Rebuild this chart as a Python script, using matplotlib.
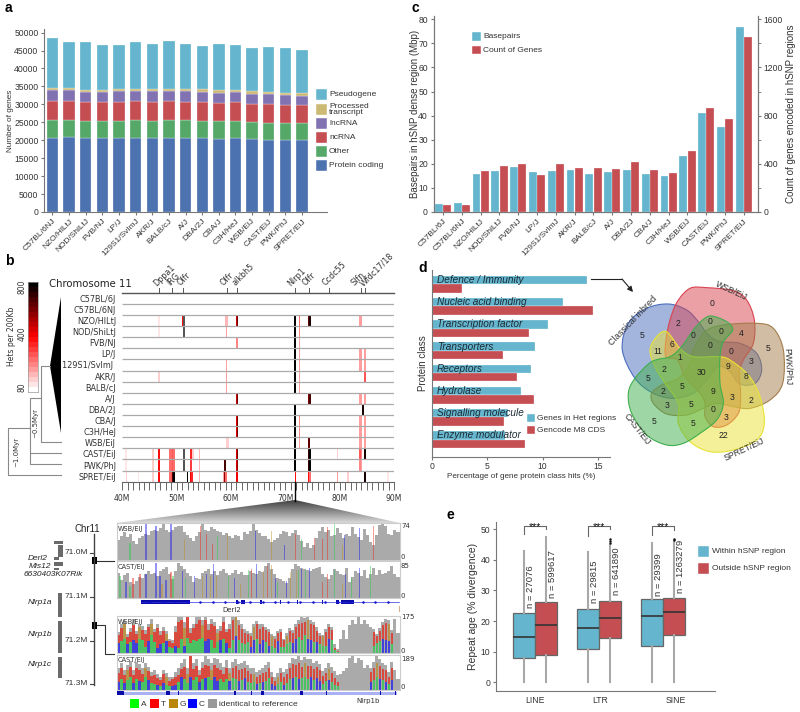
import matplotlib
matplotlib.use('Agg')
import matplotlib.pyplot as plt
import numpy as np
from matplotlib.colors import LinearSegmentedColormap, Normalize
from matplotlib.patches import PathPatch, Polygon, Rectangle
from matplotlib.path import Path

plt.rcParams['font.family'] = ['Liberation Sans', 'DejaVu Sans']

W, H = 800, 712

# panel a
strains_a = ['C57BL/6NJ', 'NZO/HlLtJ', 'NOD/ShiLtJ', 'FVB/NJ', 'LP/J', '129S1/SvImJ', 'AKR/J', 'BALB/cJ',
             'A/J', 'DBA/2J', 'CBA/J', 'C3H/HeJ', 'WSB/EiJ', 'CAST/EiJ', 'PWK/PhJ', 'SPRET/EiJ']
protein_top = [20700, 20800, 20500, 20500, 20550, 20600, 20600, 20650, 20600, 20550, 20450, 20500, 20250, 20150, 20100, 20100]
other_top = [25700, 25750, 25300, 25400, 25400, 25500, 25450, 25500, 25500, 25400, 25300, 25350, 25050, 24850, 24750, 24700]
ncrna_top = [31000, 31000, 30600, 30700, 30700, 30800, 30750, 30800, 30750, 30650, 30500, 30550, 30200, 30000, 29800, 29700]
lncrna_top = [33900, 33950, 33400, 33500, 33600, 33600, 33600, 33650, 33600, 33500, 33300, 33400, 33000, 32800, 32650, 32400]
processed_top = [34600, 34600, 34100, 34100, 34300, 34300, 34300, 34300, 34300, 34200, 34050, 34100, 33700, 33450, 33300, 33150]
pseudo_top = [48400, 47300, 47400, 46500, 46600, 47500, 46900, 47700, 46900, 46400, 46950, 46500, 45600, 46000, 45600, 45100]

# panel c
strains_c = ['C57BL/6J', 'C57BL/6NJ', 'NZO/HlLtJ', 'NOD/ShiLtJ', 'FVB/NJ', 'LP/J', '129S1/SvImJ', 'AKR/J', 'BALB/cJ',
             'A/J', 'DBA/2J', 'CBA/J', 'C3H/HeJ', 'WSB/EiJ', 'CAST/EiJ', 'PWK/PhJ', 'SPRET/EiJ']
basepairs = [3.3, 3.8, 15.8, 17, 18.5, 16.5, 17, 17.3, 15.6, 16.8, 17.6, 15.6, 14.8, 23.3, 41.2, 35.2, 77]
gene_count = [58, 58, 344, 378, 400, 304, 398, 366, 366, 360, 414, 348, 326, 504, 864, 776, 1454]

# panel d
protein_class = ['Defence / Immunity', 'Nucleic acid binding', 'Transcription factor', 'Transporters',
                 'Receptors', 'Hydrolase', 'Signalling molecule', 'Enzyme modulator']
het_region_pct = [14, 11.8, 10.5, 9.3, 8.9, 8, 6.9, 6.6]
gencode_pct = [2.7, 14.5, 8.8, 6.4, 7.7, 9.2, 6.5, 8.4]

# panel e
repeat_names = ['LINE', 'LTR', 'SINE']
within_box = [(0, 7.8, 14.8, 22.8, 43), (0, 10.8, 17.7, 24, 42.7), (0, 11.8, 21.8, 27.2, 45.5)]
outside_box = [(0, 9, 18.8, 26.3, 47.5), (0, 14.5, 21, 26.7, 45), (0, 15.3, 23, 27.5, 46)]
within_n = ['n = 27076', 'n = 29815', 'n = 29399']
outside_n = ['n = 599617', 'n = 641890', 'n = 1263279']
outside_fliers = [[], [45.6, 46.2, 46.8], [46.5, 47]]

# panel b, hets per 200Kb as (Mb position, hets), 0 marks the grey no-call cells
strains_b = ['C57BL/6J', 'C57BL/6NJ', 'NZO/HILtJ', 'NOD/ShiLtJ', 'FVB/NJ', 'LP/J', '129S1/SvImJ ', 'AKR/J', 'BALB/cJ',
             'A/J', 'DBA/2J', 'CBA/J', 'C3H/HeJ', 'WSB/EiJ', 'CAST/EiJ', 'PWK/PhJ', 'SPRET/EiJ']
nzo_hets = [(46.8, 120), (51.1, 420), (51.35, 0), (52.6, 110), (54.2, 100), (59.1, 180), (59.35, 180), (61.0, 520), (61.2, 620),
            (71.8, 800), (72.6, 300), (74.3, 650), (74.5, 760), (83.8, 240), (84.0, 240)]
nod_hets = [(46.8, 120), (51.35, 0), (59.2, 240), (61.1, 100), (71.8, 800), (72.6, 260)]
fvb_hets = [(46.8, 100), (59.2, 110), (61.0, 260), (61.2, 260), (71.8, 800), (72.6, 240)]
lp_hets = [(59.2, 110), (71.8, 800), (72.6, 240), (83.8, 220), (84.0, 220), (84.7, 240)]
s129_hets = [(59.2, 240), (71.8, 800), (72.6, 240), (83.8, 220), (84.0, 220), (84.7, 240)]
akr_hets = [(46.8, 160), (49.2, 90), (59.2, 220), (61.1, 100), (71.8, 800), (72.6, 240), (84.7, 320)]
balb_hets = [(59.2, 220), (71.8, 800), (72.6, 240)]
aj_hets = [(59.35, 110), (61.0, 520), (61.2, 620), (74.3, 620), (74.5, 700), (83.8, 220), (84.0, 220), (84.7, 240)]
dba_hets = [(59.35, 100), (71.8, 800), (84.3, 760)]
cba_hets = [(59.35, 100), (61.0, 500), (61.2, 620), (71.8, 800), (72.6, 260), (83.8, 220), (84.0, 220), (84.7, 240)]
c3h_hets = [(59.35, 100), (61.0, 500), (61.2, 620), (71.8, 800), (72.6, 260), (83.8, 220), (84.0, 220), (84.7, 240)]
wsb_hets = [(46.8, 90), (49.0, 110), (59.2, 160), (59.4, 160), (71.8, 800), (72.6, 240), (74.4, 640), (83.8, 220), (84.0, 220), (84.7, 240)]
cast_hets = [(40.7, 130), (45.7, 150), (46.8, 420), (48.8, 300), (49.05, 300), (49.3, 320), (49.55, 300), (51.35, 0), (52.6, 380), (53.0, 160),
             (54.2, 190), (61.0, 500), (61.2, 620), (62.0, 100), (63.0, 100), (71.8, 800), (74.3, 720), (74.5, 780), (79.6, 170), (83.8, 320), (84.0, 260), (84.7, 740)]
pwk_hets = [(40.7, 130), (45.7, 150), (46.8, 420), (48.8, 300), (49.05, 300), (49.3, 320), (49.55, 300), (51.35, 0), (52.6, 360), (54.2, 190),
            (58.9, 700), (61.0, 500), (61.2, 600), (71.8, 800), (74.3, 720), (74.5, 780), (77.8, 110), (83.8, 260), (84.0, 240), (84.7, 110)]
spret_hets = [(40.4, 110), (40.8, 150), (41.1, 110), (43.0, 140), (45.7, 150), (46.8, 420), (48.8, 300), (49.05, 320), (49.3, 700), (49.55, 790), (52.0, 790),
              (52.6, 460), (52.85, 380), (54.2, 190), (58.7, 240), (58.9, 600), (59.1, 300), (61.1, 450), (63.0, 100), (71.0, 110), (71.9, 420), (74.3, 420), (74.5, 300),
              (79.6, 230), (81.5, 170), (84.7, 740), (88.9, 130)]
empty_hets = []
hets_by_strain = [empty_hets, empty_hets, nzo_hets, nod_hets, fvb_hets, lp_hets, s129_hets, akr_hets, balb_hets,
                  aj_hets, dba_hets, cba_hets, c3h_hets, wsb_hets, cast_hets, pwk_hets, spret_hets]
gene_names = ['Dppa1', 'IRG', 'Olfr', 'Olfr', 'alkbh5', 'Nlrp1', 'Olfr', 'Ccdc55', 'Slfn', 'Wfdc17/18']
gene_pos = [46.8, 49.2, 51.2, 59.2, 61.1, 71.8, 74.4, 78.1, 83.9, 84.7]
gene_label_shift = [-0.1, -0.2, -0.3, -0.4, 0, -0.5, -0.4, -0.4, -1.0, 0]

# read depth tracks, percent of the track height, one value per 3 px column
wsb1_depth = [48, 58, 66, 55, 62, 45, 38, 52, 58, 62, 60, 68, 72, 70, 75, 86, 72, 66, 72, 78, 82, 80, 66, 60, 52, 46, 58, 66, 90, 72,
              70, 78, 74, 70, 66, 60, 64, 56, 52, 60, 56, 48, 66, 62, 70, 88, 72, 64, 58, 56, 50, 42, 48, 52, 62, 70, 66, 56, 64, 72,
              60, 46, 30, 40, 28, 36, 52, 70, 78, 66, 72, 58, 60, 76, 64, 52, 62, 56, 78, 62, 54, 48, 74, 60, 44, 36, 60, 84, 96, 80,
              62, 60, 72, 66]
wsb1_snps = [(13, 'A', 40), (29, 'C', 88), (39, 'C', 80), (54, 'C', 95), (67, 'G', 50), (83, 'T', 82), (89, 'T', 62), (95, 'T', 38),
             (100, 'A', 57), (110, 'G', 62), (138, 'C', 70), (154, 'G', 70), (167, 'C', 35), (178, 'T', 62), (184, 'A', 50), (197, 'T', 52),
             (205, 'T', 50), (210, 'T', 78), (217, 'A', 100), (225, 'G', 35), (227, 'C', 60), (242, 'C', 75), (256, 'T', 82)]
cast1_depth = [62, 45, 58, 62, 40, 35, 42, 52, 50, 60, 66, 60, 62, 55, 68, 72, 78, 60, 48, 68, 88, 80, 72, 62, 55, 40, 50, 48, 62, 66,
               72, 60, 68, 58, 66, 72, 62, 56, 62, 70, 60, 64, 56, 58, 66, 62, 60, 68, 65, 80, 86, 72, 60, 50, 46, 42, 36, 50, 72, 85,
               80, 74, 72, 70, 68, 72, 74, 78, 60, 52, 48, 58, 72, 66, 60, 56, 74, 40, 52, 66, 62, 55, 70, 50, 60, 74, 56, 70, 60, 62,
               66, 80, 60, 52]
cast1_snps = [(3, 'A', 55), (9, 'C', 40), (13, 'A', 30), (16, 'T', 50), (23, 'T', 60), (29, 'C', 60), (39, 'C', 88), (43, 'C', 55), (45, 'G', 35),
              (49, 'C', 45), (54, 'T', 65), (56, 'A', 55), (65, 'C', 68), (68, 'A', 50), (77, 'C', 55), (85, 'G', 55), (89, 'C', 60), (93, 'G', 55),
              (96, 'C', 85), (99, 'G', 55), (111, 'A', 55), (117, 'C', 50), (123, 'G', 35), (131, 'A', 70), (134, 'T', 72), (139, 'C', 85), (146, 'G', 68),
              (150, 'T', 80), (154, 'G', 82), (158, 'C', 50), (160, 'A', 40), (169, 'C', 42), (173, 'G', 65), (179, 'G', 70), (181, 'A', 70), (184, 'C', 72),
              (188, 'A', 70), (192, 'C', 75), (205, 'T', 40), (210, 'T', 60), (217, 'A', 70), (225, 'G', 35), (228, 'C', 60), (234, 'A', 50), (242, 'C', 75), (253, 'A', 80)]

wsb2_depth = [45, 62, 68, 40, 52, 72, 46, 62, 56, 48, 60, 72, 50, 62, 46, 54, 46, 30, 26, 56, 85, 82, 65, 90, 52, 62, 76, 82, 70, 85,
              60, 72, 66, 50, 56, 76, 50, 60, 82, 96, 70, 60, 50, 46, 42, 62, 68, 60, 62, 55, 50, 40, 35, 46, 50, 30, 42, 52, 48, 62,
              70, 78, 74, 82, 70, 65, 55, 42, 38, 50, 60, 55, 18, 8, 30, 48, 30, 58, 70, 62, 75, 60, 70, 62, 55, 50, 40, 52, 66, 72,
              70, 48, 72, 42]
wsb2_low = [20, 25, 30, 18, 22, 28, 20, 30, 28, 12, 24, 38, 22, 10, 18, 20, 25, 12, 10, 15, 10, 30, 14, 32, 20, 28, 25, 30, 32, 25,
            30, 26, 10, 22, 26, 30, 20, 10, 28, 36, 28, 20, 18, 22, 12, 26, 30, 18, 28, 22, 15, 15, 10, 25, 12, 12, 18, 22, 20, 30,
            34, 28, 38, 30, 28, 22, 22, 18, 15, 15, 30, 28, 5, 2, 0, 0, 0, 0, 0, 0, 0, 0, 0, 0, 0, 15, 20, 25, 30, 28, 25, 18, 25, 12]
wsb2_low_base = 'CAACACCAAACAACCACAACAACAAAAAACCAAACACAACAAAACCACCACAACAAAACCAAACCACAAACAA' + 'AAAAAAAAAAA' + 'CAAACCCAA'
wsb2_mid = [18, 28, 30, 15, 22, 30, 20, 25, 20, 28, 30, 24, 22, 42, 20, 26, 14, 12, 10, 30, 55, 40, 38, 45, 22, 24, 36, 40, 26, 45,
            18, 34, 46, 20, 20, 36, 24, 40, 42, 46, 30, 30, 24, 18, 24, 28, 30, 32, 26, 26, 28, 20, 20, 16, 32, 14, 18, 24, 22, 24,
            28, 36, 28, 40, 34, 36, 25, 18, 20, 30, 24, 20, 6, 2, 0, 0, 0, 0, 0, 0, 0, 0, 0, 0, 0, 28, 15, 22, 28, 36, 36, 24, 40, 24]
wsb2_mid_base = 'TTGTTTTGTTTGTTTTGTTTTTGTTTTTGTTTTGTTTTTGTTTTTGTTTTTGTTTTGTTTTTTGTTTTGTTT' + 'TTTTTTTTTTT' + 'TGTTTTTGT'
cast2_depth = [50, 60, 45, 55, 65, 45, 62, 58, 48, 60, 52, 40, 45, 35, 30, 45, 38, 28, 30, 40, 50, 60, 68, 50, 92, 60, 70, 45, 62, 75,
               70, 60, 72, 68, 60, 52, 66, 50, 62, 70, 58, 60, 64, 55, 50, 48, 40, 45, 50, 55, 62, 40, 28, 38, 50, 40, 46, 60, 72, 70,
               76, 66, 74, 70, 68, 60, 65, 58, 42, 50, 60, 52, 42, 34, 35, 42, 48, 72, 95, 60, 72, 66, 50, 55, 50, 62, 78, 70, 60, 55,
               40, 62, 45, 25]
cast2_low = [18, 25, 15, 22, 28, 16, 24, 20, 18, 28, 22, 16, 14, 12, 10, 15, 12, 8, 10, 12, 18, 28, 24, 16, 30, 22, 28, 18, 24, 26,
             30, 22, 28, 20, 24, 18, 24, 20, 26, 24, 20, 22, 26, 18, 16, 18, 14, 16, 18, 20, 26, 14, 10, 14, 18, 12, 16, 24, 26, 28,
             24, 26, 30, 24, 28, 22, 26, 20, 14, 20, 22, 18, 12, 8, 0, 0, 0, 0, 0, 0, 0, 0, 0, 0, 18, 22, 28, 24, 22, 18, 14, 22, 16, 10]
cast2_low_base = 'CACAACACAACAACACAACCACAACAACACAACCAAACAACACAAACACAACCAACAACACAAACACCAACA' + 'AAAAAAAAAA' + 'CACAACACAC'
cast2_mid = [20, 24, 18, 22, 24, 18, 26, 24, 18, 20, 20, 16, 20, 14, 12, 20, 16, 12, 14, 16, 16, 18, 28, 20, 50, 24, 26, 16, 24, 30,
             24, 22, 28, 30, 20, 18, 26, 18, 22, 30, 24, 24, 24, 24, 20, 18, 16, 18, 20, 20, 22, 16, 10, 14, 20, 16, 20, 24, 32, 28,
             36, 26, 30, 30, 26, 24, 26, 24, 18, 18, 24, 20, 14, 10, 0, 0, 0, 0, 0, 0, 0, 0, 0, 0, 22, 26, 32, 30, 24, 26, 16, 28, 18, 8]
cast2_mid_base = 'TTTGTTTTTGTTTTTTGTTTTTTGTTTTTTTGTTTTTGTTTTTTTGTTTTTTTGTTTTTTTTGTTTTTTTGT' + 'TTTTTTTTTT' + 'TTTTGTTTTT'

derl2_exons = [(24, 73), (119, 121), (124, 128), (143, 145), (163, 164), (180, 181), (205, 206), (219, 222), (224, 237)]
nlrp1b_exons = [(0, 7), (49, 53), (61, 62), (117, 119), (134, 135), (144, 147), (183, 186), (209, 210), (263, 264), (278, 279)]
base_colors = {'A': '#22cc44', 'T': '#ee2211', 'G': '#c08a20', 'C': '#1515ee'}

# venn outlines, traced in a 630 x 690 box
blue_outline = [(97, 270), (115, 190), (170, 145), (235, 132), (290, 150), (325, 185), (355, 225), (390, 245), (450, 250), (500, 280),
                (515, 330), (495, 370), (450, 372), (420, 335), (385, 320), (345, 365), (310, 400), (250, 415), (190, 400), (135, 355)]
red_outline = [(262, 125), (300, 85), (350, 83), (430, 92), (470, 120), (493, 180), (490, 250), (460, 300), (448, 340), (452, 410),
               (445, 460), (410, 495), (370, 500), (345, 470), (345, 430), (330, 400), (285, 350), (262, 300), (228, 290), (228, 240), (240, 180)]
brown_outline = [(310, 270), (345, 215), (400, 195), (500, 190), (550, 205), (580, 270), (578, 370), (540, 420), (480, 445), (430, 440),
                 (380, 430), (340, 445), (290, 465), (230, 462), (190, 430), (185, 400), (215, 375), (265, 355), (300, 310)]
yellow_outline = [(230, 215), (200, 230), (180, 270), (195, 320), (225, 370), (265, 430), (265, 490), (300, 545), (360, 575), (430, 570),
                  (500, 540), (523, 490), (510, 410), (475, 345), (420, 300), (385, 290), (310, 290), (270, 265)]
green_outline = [(115, 400), (135, 355), (185, 305), (240, 290), (275, 260), (310, 210), (340, 178), (365, 168), (410, 185), (428, 210),
                 (400, 245), (390, 290), (390, 370), (400, 430), (380, 480), (330, 520), (280, 550), (230, 555), (170, 525), (125, 460)]
venn_counts = [(365, 130, '0'), (155, 227, '5'), (533, 265, '5'), (400, 527, '22'), (193, 485, '5'), (264, 192, '2'), (361, 185, '0'),
               (308, 228, '0'), (393, 216, '0'), (455, 222, '4'), (359, 257, '0'), (424, 275, '0'), (482, 305, '3'), (246, 255, '6'),
               (204, 275, '11'), (268, 293, '1'), (222, 330, '2'), (335, 337, '30'), (415, 320, '9'), (468, 351, '8'), (173, 355, '5'),
               (276, 380, '5'), (218, 393, '2'), (370, 395, '9'), (427, 412, '3'), (483, 422, '2'), (232, 437, '3'), (303, 433, '5'),
               (368, 450, '0'), (408, 472, '3'), (310, 491, '5')]

BLUE, RED = '#64B5CD', '#C44E52'
AXIS = '#777777'
TXT = '#333333'


def panel(left, top, right, bottom):
    return fig.add_axes([left / W, 1 - bottom / H, (right - left) / W, (bottom - top) / H])


def clean(ax, keep=('left', 'bottom')):
    for side in ax.spines:
        ax.spines[side].set_visible(side in keep)
        ax.spines[side].set_color(AXIS)
    ax.tick_params(colors=AXIS, labelcolor=TXT, length=2.5, width=0.8, labelsize=6.2, pad=1.5)
    ax.patch.set_alpha(0)


def smooth_blob(points):
    pts = np.array(points, dtype=float)
    n = len(pts)
    verts = [pts[0]]
    codes = [Path.MOVETO]
    for i in range(n):
        a, b, c, d = pts[i - 1], pts[i], pts[(i + 1) % n], pts[(i + 2) % n]
        verts += [b + (c - a) / 6, c - (d - b) / 6, c]
        codes += [Path.CURVE4] * 3
    return Path(verts, codes)


def draw_track(ax, depth, label, top_label, label_y, zero_y, ymax, snps=None, low=None, low_base=None, mid=None, mid_base=None):
    step = 282 / len(depth)
    x = (np.arange(len(depth)) + 0.5) * step
    ax.bar(x, depth, width=step, color='#aaaaaa', linewidth=0)
    if low is not None:
        for xi, l, lb, m, mb in zip(x, low, low_base, mid, mid_base):
            if l + m == 0:
                continue
            ax.bar(xi, l, width=step * 0.8, color=base_colors[lb], alpha=0.7, linewidth=0)
            ax.bar(xi, m, bottom=l, width=step * 0.8, color=base_colors[mb], alpha=0.7, linewidth=0)
    if snps is not None:
        for sx, base, h in snps:
            ax.bar(sx, h, width=1.2, color=base_colors[base], alpha=0.45, linewidth=0)
    ax.set_xlim(0, 282)
    ax.set_ylim(0, ymax)
    ax.set_xticks([])
    ax.set_yticks([])
    for side in ax.spines:
        ax.spines[side].set_color('#cccccc')
        ax.spines[side].set_linewidth(0.8)
    ax.text(1, ymax * 0.93, label, fontsize=4.8, color=TXT, va='top', family='DejaVu Sans')
    ax.text(1.005, label_y, top_label, transform=ax.transAxes, fontsize=5, color=TXT, va='center', clip_on=False, family='DejaVu Sans')
    ax.text(1.005, zero_y, '0', transform=ax.transAxes, fontsize=5, color=TXT, va='center', clip_on=False, family='DejaVu Sans')


fig = plt.figure(figsize=(W / 100, H / 100), dpi=100)

# overlay in pixel units for letters, tree, ideogram
over = fig.add_axes([0, 0, 1, 1], zorder=5)
over.set_xlim(0, W)
over.set_ylim(H, 0)
over.axis('off')
over.patch.set_alpha(0)
for letter, lx, ly in [('a', 8, 8), ('b', 9, 261), ('c', 415, 8), ('d', 423, 268), ('e', 450, 515)]:
    over.text(lx, ly, letter, fontsize=10, fontweight='bold', ha='center', va='center', color='black')

# ---- a
ax = panel(44, 29, 327, 212)
clean(ax)
layers = [protein_top, other_top, ncrna_top, lncrna_top, processed_top, pseudo_top]
layer_colors = ['#4C72B0', '#55A868', '#C44E52', '#8172B2', '#CCB974', '#64B5CD']
below = np.zeros(len(strains_a))
x = np.arange(len(strains_a))
for tops, col in zip(layers, layer_colors):
    ax.bar(x, np.array(tops) - below, bottom=below, width=0.68, color=col, edgecolor='white', linewidth=0.2)
    below = np.array(tops)
ax.set_xlim(-0.51, 16.5)
ax.set_ylim(0, 51000)
ax.set_yticks(np.arange(0, 50001, 5000))
ax.set_xticks(x)
ax.set_xticklabels(strains_a, rotation=45, ha='right', rotation_mode='anchor', fontsize=6)
ax.set_ylabel('Number of genes', fontsize=5.9, color=TXT, labelpad=0)
legend_a = [('Pseudogene', '#64B5CD', 94), ('Processed\ntranscript', '#CCB974', 109), ('lncRNA', '#8172B2', 123),
            ('ncRNA', '#C44E52', 137), ('Other', '#55A868', 151), ('Protein coding', '#4C72B0', 165)]
for name, col, yy in legend_a:
    over.add_patch(Rectangle((316, yy - 5.5), 11, 11, facecolor=col, edgecolor='white', linewidth=0.3))
    over.text(329, yy + 0.5, name, fontsize=6, color=TXT, va='center', linespacing=0.9)

# ---- c
ax = panel(433.5, 15.7, 758, 212)
clean(ax, keep=('left', 'bottom', 'right'))
x = np.arange(len(strains_c))
ax.bar(x - 0.22, basepairs, width=0.42, color=BLUE, edgecolor='white', linewidth=0.2)
ax.set_xlim(-0.505, 16.75)
ax.set_ylim(0, 81.5)
ax.set_yticks(np.arange(0, 81, 10))
ax.set_xticks(x)
ax.set_xticklabels(strains_c, rotation=45, ha='right', rotation_mode='anchor', fontsize=6)
ax.set_ylabel('Basepairs in hSNP dense region (Mbp)', fontsize=7, color=TXT, labelpad=-1)
ax2 = ax.twinx()
clean(ax2, keep=('left', 'bottom', 'right'))
ax2.bar(x + 0.22, gene_count, width=0.42, color=RED, edgecolor='white', linewidth=0.2)
ax2.set_ylim(0, 1630)
ax2.set_yticks([0, 400, 800, 1200, 1600])
ax2.set_yticks([200, 600, 1000, 1400], minor=True)
ax2.tick_params(which='minor', length=2, color=AXIS)
ax2.set_ylabel('Count of genes encoded in hSNP regions', fontsize=7, color=TXT, labelpad=2.5)
for name, col, yy in [('Basepairs', BLUE, 36.5), ('Count of Genes', RED, 50)]:
    over.add_patch(Rectangle((472.3, yy - 4.3), 8.7, 8.6, facecolor=col, edgecolor='white', linewidth=0.3))
    over.text(483, yy, name, fontsize=6, color=TXT, va='center')

# ---- d
ax = panel(432, 270, 610, 456.7)
clean(ax)
y = np.arange(len(protein_class))
ax.barh(y - 0.19, het_region_pct, height=0.375, color=BLUE, edgecolor='white', linewidth=0.2)
ax.barh(y + 0.19, gencode_pct, height=0.375, color=RED, edgecolor='white', linewidth=0.2)
for i, name in enumerate(protein_class):
    ax.text(0.45, i - 0.19, name, fontsize=7.2, style='italic', color='#1c2a33', va='center')
ax.set_xlim(0, 16.08)
ax.set_ylim(7.77, -0.64)
ax.set_yticks([])
ax.set_xticks([0, 5, 10, 15])
ax.set_xlabel('Percentage of gene protein class hits (%)', fontsize=5.9, color=TXT, labelpad=1.5, x=0.5)
ax.set_ylabel('Protein class', fontsize=7, color=TXT, labelpad=3)
for name, col, yy in [('Genes in Het regions', BLUE, 418), ('Gencode M8 CDS', RED, 430)]:
    over.add_patch(Rectangle((527, yy - 4), 8, 8, facecolor=col, edgecolor='white', linewidth=0.3))
    over.text(537, yy, name, fontsize=6, color=TXT, va='center')
over.plot([591, 622], [279, 279], color='#222222', lw=0.8)
over.annotate('', xy=(633, 292), xytext=(622, 279),
              arrowprops=dict(arrowstyle='-|>', color='#222222', lw=0.8, mutation_scale=8, shrinkA=0, shrinkB=0))

# venn
venn = panel(590, 260, 800, 490)
venn.set_xlim(0, 630)
venn.set_ylim(690, 0)
venn.axis('off')
venn.patch.set_alpha(0)
for outline, col in [(blue_outline, '#4a6dbd'), (red_outline, '#d8434f'), (brown_outline, '#a47d4b'),
                     (yellow_outline, '#e8e335'), (green_outline, '#3fae4d')]:
    venn.add_patch(PathPatch(smooth_blob(outline), facecolor=col, alpha=0.5, edgecolor='none'))
    venn.add_patch(PathPatch(smooth_blob(outline), facecolor='none', edgecolor=col, lw=0.8))
for vx, vy, count in venn_counts:
    venn.text(vx, vy, count, fontsize=6.2, color='#222222', ha='center', va='center')
for name, vx, vy, rot, size in [('Classical inbred', 128, 182, 46, 6.6), ('WSB/EiJ', 425, 92, -25, 6.2), ('PWK/PhJ', 592, 320, -88, 6.2),
                                ('SPRET/EiJ', 462, 570, 25, 6.2), ('CAST/EiJ', 142, 508, -52, 6.2)]:
    venn.text(vx, vy, name, fontsize=size, color=TXT, rotation=rot, ha='center', va='center')

# ---- e
ax = panel(496, 521.7, 715, 690.7)
clean(ax)
groups = np.arange(3)
ax.set_xlim(-0.606, 2.816)
ax.set_ylim(-2.77, 52.5)
for stats_src, off, col, fliers in [(within_box, -0.17, BLUE, [[], [], []]), (outside_box, 0.17, RED, outside_fliers)]:
    stats = []
    for (lo, q1, med, q3, hi), fl in zip(stats_src, fliers):
        stats.append(dict(whislo=lo, q1=q1, med=med, q3=q3, whishi=hi, fliers=fl))
    ax.bxp(stats, positions=groups + off, widths=0.34, patch_artist=True, showcaps=False, manage_ticks=False,
           boxprops=dict(facecolor=col, edgecolor='#666666', linewidth=0.9),
           medianprops=dict(color='#333333', linewidth=1.2),
           whiskerprops=dict(color='#a8a8a8', linewidth=1.5),
           flierprops=dict(marker='.', markersize=1.5, color='#111111', markerfacecolor='#111111', markeredgecolor='#111111'))
ax.set_yticks([0, 10, 20, 30, 40, 50])
ax.set_xticks([0, 1.02, 2.2])
ax.set_xticklabels(repeat_names, fontsize=6.2)
ax.tick_params(axis='x', length=0, pad=4)
ax.set_ylabel('Repeat age (% divergence)', fontsize=7.5, color=TXT, labelpad=2)
for i, (ntxt, otxt) in enumerate(zip(within_n, outside_n)):
    yw = [24.3, 25.9, 28.3][i]
    yo = [27.7, 28.5, 29.3][i]
    ax.text(i - 0.07, yw, ntxt, rotation=90, fontsize=6.8, color=TXT, ha='center', va='bottom')
    ax.text(i + 0.27, yo, otxt, rotation=90, fontsize=6.8, color=TXT, ha='center', va='bottom')
    left_leg = [48.4, 47.9, 48.2][i]
    right_leg = [50, 50, 49.7][i]
    ax.plot([i - 0.17, i - 0.17, i + 0.17, i + 0.17], [left_leg, 51.2, 51.2, right_leg], color='#666666', lw=0.8, clip_on=False)
    ax.text(i, 50.9, '***', fontsize=7.5, color='#111111', ha='center', va='center', clip_on=False)
for name, col, yy in [('Within hSNP region', BLUE, 551.5), ('Outside hSNP region', RED, 568.3)]:
    over.add_patch(Rectangle((698, yy - 5.5), 11, 11, facecolor=col, edgecolor='white', linewidth=0.3))
    over.text(712, yy, name, fontsize=6, color=TXT, va='center')

# ---- b heat tracks
ax = panel(122.3, 292.7, 394, 481.7)
ax.patch.set_alpha(0)
for side in ax.spines:
    ax.spines[side].set_visible(False)
hets_cmap = LinearSegmentedColormap.from_list('hets', ['#ffffff', '#ff0000', '#000000'], N=22)
hets_cmap.set_under('#555555')
hets_norm = Normalize(80, 800)
for row, cells in enumerate(hets_by_strain):
    for pos, hets in cells:
        ax.bar(pos, 1, width=0.3, bottom=row, color=hets_cmap(hets_norm(hets if hets else 1)), linewidth=0, zorder=1)
ax.hlines(np.arange(1, 17), 40, 90, color='#aaaaaa', lw=0.9, zorder=2)
ax.set_xlim(40, 90)
ax.set_ylim(17, 0)
ax.set_yticks(np.arange(17) + 0.5)
ax.set_yticklabels(strains_b, fontsize=5.9, family='DejaVu Sans', color=TXT)
ax.tick_params(axis='y', length=0, pad=4.5)
ax.set_xticks(np.arange(40, 91, 10))
ax.set_xticklabels(['%dM' % v for v in np.arange(40, 91, 10)], fontsize=5.5, family='DejaVu Sans', color=TXT)
ax.set_xticks(np.arange(40, 91, 1), minor=True)
ax.tick_params(axis='x', which='both', length=6, width=0.7, color='#666666', pad=2.5)
ax.spines['bottom'].set_visible(True)
ax.spines['bottom'].set_color('#666666')
ax.spines['top'].set_visible(True)
ax.spines['top'].set_color('#555555')
ax.spines['top'].set_linewidth(1)
for name, pos, shift in zip(gene_names, gene_pos, gene_label_shift):
    ax.plot([pos, pos], [-0.4, 0], color='#555555', lw=0.7, clip_on=False)
    ax.text(pos + shift, -0.45, name, rotation=45, fontsize=5.8, family='DejaVu Sans', color=TXT,
            ha='left', va='bottom', rotation_mode='anchor', clip_on=False)
over.text(49, 284, 'Chromosome 11', fontsize=7.3, family='DejaVu Sans', color='#222222', va='center')

# colour key
cbar = panel(28, 281.7, 38, 391.7)
cbar.imshow(np.linspace(800, 80, 22)[:, None], cmap=hets_cmap, norm=hets_norm, aspect='auto', interpolation='nearest')
cbar.set_xticks([])
cbar.set_yticks([])
for side in cbar.spines:
    cbar.spines[side].set_color('#999999')
    cbar.spines[side].set_linewidth(0.5)
for txt, yy in [('800', 287), ('400', 334), ('80', 387)]:
    over.text(22, yy, txt, fontsize=5.5, rotation=90, ha='center', va='center', color=TXT, family='DejaVu Sans')
over.text(12, 336, 'Hets per 200Kb', fontsize=5.5, rotation=90, ha='center', va='center', color=TXT, family='DejaVu Sans')

# tree
over.add_patch(Polygon([(50, 366), (61, 297), (61, 433)], closed=True, facecolor='black', edgecolor='none'))
tree_col = '#8a8a8a'
for xs, ys in [([50, 41, 41, 61], [366, 366, 442, 442]), ([41, 30, 30, 61], [398, 398, 464, 464]), ([30, 61], [453, 453]),
               ([30, 8, 8, 61], [428, 428, 475, 475])]:
    over.plot(xs, ys, color=tree_col, lw=0.8)
over.text(35, 423, '~0.5Myr', fontsize=5, rotation=90, ha='center', va='center', color=TXT, family='DejaVu Sans')
over.text(16, 452, '~1.0Myr', fontsize=5, rotation=90, ha='center', va='center', color=TXT, family='DejaVu Sans')

# zoom wedge under the Nlrp1 locus
wedge = panel(116.7, 500, 400, 523)
wedge.axis('off')
img = wedge.imshow(np.linspace(0.25, 0.85, 64)[:, None], cmap='gray', vmin=0, vmax=1, aspect='auto', extent=(116.7, 400, 523, 500))
wedge_clip = Polygon([(116.7, 523), (295, 500), (400, 523)], closed=True, transform=wedge.transData, facecolor='none')
wedge.add_patch(wedge_clip)
img.set_clip_path(wedge_clip)
over.plot([295, 295], [482, 501], color='black', lw=1)

# ---- coverage tracks
draw_track(panel(117, 523, 399.5, 560), wsb1_depth, 'WSB/EiJ', '74', 0.92, 0.08, 88, snps=wsb1_snps)
draw_track(panel(117, 561, 399.5, 597.7), cast1_depth, 'CAST/EiJ', '85', 0.87, 0.05, 92, snps=cast1_snps)
draw_track(panel(117, 616, 399.5, 652.7), wsb2_depth, 'WSB/EiJ', '175', 0.97, 0.05, 78, low=wsb2_low, low_base=wsb2_low_base, mid=wsb2_mid, mid_base=wsb2_mid_base)
draw_track(panel(117, 655, 399.5, 690), cast2_depth, 'CAST/EiJ', '189', 0.89, 0.09, 78, low=cast2_low, low_base=cast2_low_base, mid=cast2_mid, mid_base=cast2_mid_base)

# gene models, px offsets from the left edge of the tracks
over.plot([141, 399], [602, 602], color='#3333dd', lw=0.5)
for tx in np.arange(150, 399, 12.5):
    over.plot(tx, 602, marker='.', markersize=1.6, color='#1111cc')
for a, b in derl2_exons:
    over.add_patch(Rectangle((117 + a, 600), b - a, 4, facecolor='#0a0aa8', edgecolor='none'))
over.text(232, 610.5, 'Derl2', fontsize=5, family='DejaVu Sans', color=TXT, ha='center', va='center')
over.plot([399, 399], [606, 611], color='#d8b090', lw=0.8)
over.add_patch(Rectangle((117, 692), 280, 2.6, facecolor='#aab0f4', edgecolor='none'))
for a, b in nlrp1b_exons:
    over.add_patch(Rectangle((117 + a, 691), b - a, 4.4, facecolor='#0a0aa8', edgecolor='none'))
over.text(368, 701, 'Nlrp1b', fontsize=5, family='DejaVu Sans', color=TXT, ha='center', va='center')
for name, sx, col in [('A', 130, '#00ff00'), ('T', 150, '#ff0000'), ('G', 169, '#b8860b'), ('C', 188, '#0000ff'),
                      ('identical to reference', 208, '#999999')]:
    over.add_patch(Rectangle((sx, 699), 8.5, 8.5, facecolor=col, edgecolor='none'))
    over.text(sx + 11, 704, name, fontsize=6, color=TXT, va='center')

# ideogram
over.plot([94.3, 94.3], [534, 685], color='#444444', lw=1)
for txt, yy in [('71.0M', 553), ('71.1M', 597), ('71.2M', 640.7), ('71.3M', 684)]:
    over.plot([90, 94.3], [yy, yy], color='#444444', lw=0.8)
    over.text(88, yy - 0.5, txt, fontsize=6, color=TXT, ha='right', va='center')
over.text(87, 529, 'Chr11', fontsize=7, color='#222222', ha='center', va='center')
over.add_patch(Rectangle((91.7, 557), 5, 7, facecolor='black'))
over.add_patch(Rectangle((91.7, 621.7), 5, 7.3, facecolor='black'))
over.plot([97, 114], [561, 561], color='#333333', lw=0.8)
over.plot([97, 105, 105, 114], [625, 625, 653.7, 653.7], color='#333333', lw=0.8)
for rx, ry, rw, rh in [(54, 540.5, 8.5, 3.5), (58, 545, 4.5, 12), (54, 557, 4.5, 3), (54, 561.5, 8.5, 4), (54, 567.5, 4.5, 2),
                       (58, 593, 4, 24), (58, 620.7, 4, 32.3), (58, 656.7, 4, 21)]:
    over.add_patch(Rectangle((rx, ry), rw, rh, facecolor='#6a6a6a', edgecolor='none'))
for txt, tx, ty in [('Derl2', 38, 558.5), ('Mis12', 40, 566), ('6630403K07Rik', 53, 575), ('Nlrp1a', 40, 603),
                    ('Nlrp1b', 40, 635), ('Nlrp1c', 40, 665)]:
    over.text(tx, ty, txt, fontsize=6, style='italic', color='#222222', ha='center', va='center')

fig.savefig('out.png', dpi=100)
